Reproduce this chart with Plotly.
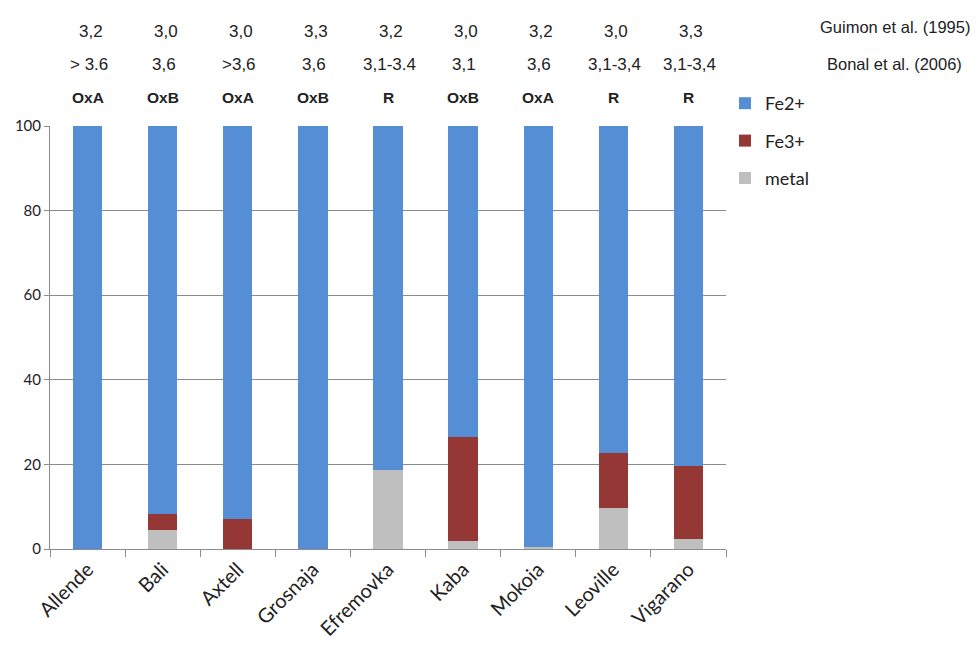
import plotly.graph_objects as go

categories = ["Allende", "Bali", "Axtell", "Grosnaja", "Efremovka", "Kaba", "Mokoia", "Leoville", "Vigarano"]
metal = [0, 4.5, 0, 0, 18.7, 2.0, 0.5, 9.6, 2.3]
fe3 = [0, 3.7, 7.1, 0, 0, 24.4, 0, 13.2, 17.3]
fe2 = [100, 91.8, 92.9, 100, 81.3, 73.6, 99.5, 77.2, 80.4]

guimon = ["3,2", "3,0", "3,0", "3,3", "3,2", "3,0", "3,2", "3,0", "3,3"]
bonal = ["> 3.6", "3,6", ">3,6", "3,6", "3,1-3.4", "3,1", "3,6", "3,1-3,4", "3,1-3,4"]
group = ["OxA", "OxB", "OxA", "OxB", "R", "OxB", "OxA", "R", "R"]

fig = go.Figure()
series = [("metal", metal, "#BFBFBF", 3), ("Fe3+", fe3, "#953735", 2), ("Fe2+", fe2, "#558ED5", 1)]
for name, vals, col, rank in series:
    fig.add_trace(go.Bar(x=categories, y=vals, name=name, marker_color=col,
                         marker_line_width=0, legendgroup=name, legendrank=rank))

# page has an 8px body margin; window pixel geometry of the plot area
OFF = 8
W, H = 978 - OFF, 645 - OFF
L = 50 - OFF
T = 126 - OFF
R = W - (726 - OFF)
B = H - (549 - OFF)
pw, ph = W - L - R, H - T - B

def py(pix):
    return 1 + (T - (pix - OFF)) / ph

def px(pix):
    return ((pix - OFF) - L) / pw

num_font = dict(family="Liberation Sans, Arial", size=17, color="#222")
ann = []
for i, c in enumerate(categories):
    ann.append(dict(x=c, y=py(32), xref="x", yref="paper", yanchor="middle", text=guimon[i],
                    showarrow=False, xshift=3, font=num_font))
    ann.append(dict(x=c, y=py(64), xref="x", yref="paper", yanchor="middle", text=bonal[i],
                    showarrow=False, xshift=1, font=num_font))
    ann.append(dict(x=c, y=py(97), xref="x", yref="paper", yanchor="middle",
                    text="<b>" + group[i] + "</b>", showarrow=False,
                    font=dict(family="Liberation Sans, Arial", size=15.5, color="#222")))
ann.append(dict(x=px(972), y=py(27), xref="paper", yref="paper", text="Guimon et al. (1995)",
                xanchor="right", yanchor="middle", showarrow=False,
                font=dict(family="Liberation Sans, Arial", size=16.5, color="#222")))
ann.append(dict(x=px(964), y=py(64), xref="paper", yref="paper", text="Bonal et al. (2006)",
                xanchor="right", yanchor="middle", showarrow=False,
                font=dict(family="Liberation Sans, Arial", size=16.5, color="#222")))

fig.update_layout(
    width=W, height=H,
    margin=dict(l=L, r=R, t=T, b=B, autoexpand=False),
    barmode="stack", bargap=0.61,
    plot_bgcolor="white", paper_bgcolor="white",
    font=dict(family="Lato, Liberation Sans", color="#222"),
    annotations=ann,
    legend=dict(x=px(725), y=py(85), xanchor="left", yanchor="top",
                traceorder="grouped", tracegroupgap=11,
                font=dict(family="Lato", size=18, color="#222"),
                itemwidth=30),
    xaxis=dict(showline=True, linecolor="#8c8c8c", linewidth=1, ticks="outside",
               tickson="boundaries", ticklen=7, tickcolor="#8c8c8c", tickangle=-45,
               tickfont=dict(family="Lato", size=20, color="#222"), showgrid=False),
    yaxis=dict(range=[0, 100], tickvals=[0, 20, 40, 60, 80, 100], showgrid=True,
               gridcolor="#8c8c8c", gridwidth=1, showline=True, linecolor="#8c8c8c",
               zeroline=False, ticks="outside", ticklen=5, tickcolor="#8c8c8c",
               tickfont=dict(family="Lato", size=15, color="#222")),
)

fig.write_html("out.html")
